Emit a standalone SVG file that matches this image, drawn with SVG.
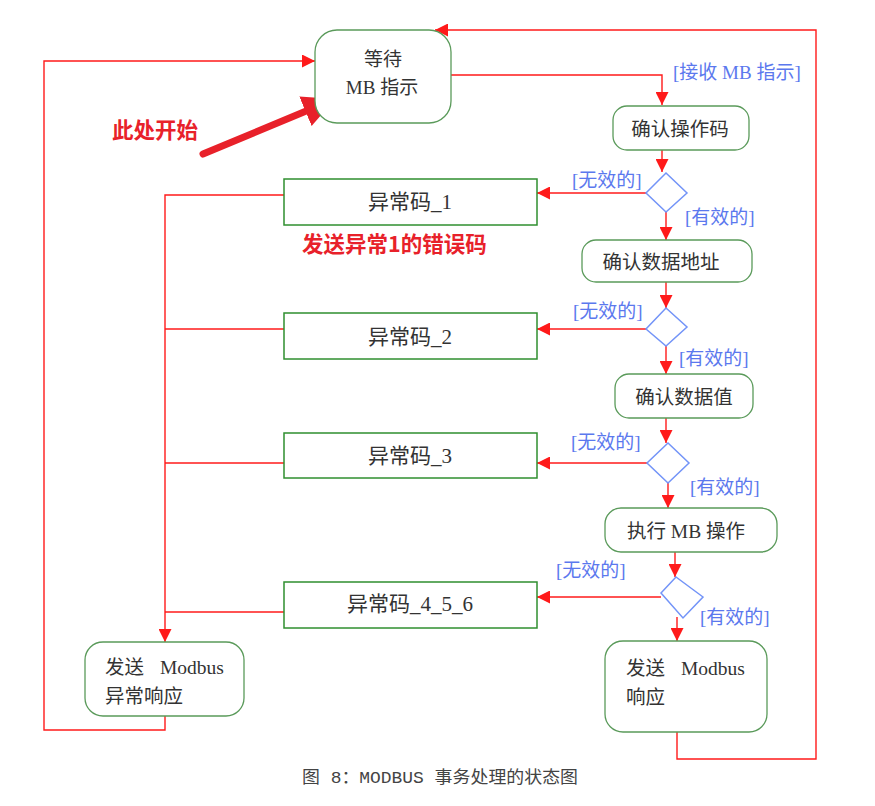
<svg xmlns="http://www.w3.org/2000/svg" width="875" height="806" viewBox="0 0 875 806">
<style>
.state{fill:#fff;stroke:#5a9a5a;stroke-width:1.3}
.box{fill:#fff;stroke:#2f8f2f;stroke-width:1.5}
.dia{fill:#fff;stroke:#7394f8;stroke-width:1.5}
.t{font-family:"Liberation Serif","Noto Sans CJK SC",serif;fill:#333;text-anchor:middle}
.tl{font-family:"Liberation Serif","Noto Sans CJK SC",serif;fill:#333}
.lab{font-family:"Liberation Serif","Noto Sans CJK SC",serif;fill:#5b78ee;font-size:19px}
.red{font-family:"Noto Sans CJK SC",sans-serif;font-weight:bold;fill:#e8212a;font-size:21.5px}
.ln{fill:none;stroke:#ff1a1a;stroke-width:1.4}
</style>
<defs>
<marker id="ah" markerUnits="userSpaceOnUse" markerWidth="13" markerHeight="13" refX="13" refY="6.5" orient="auto"><path d="M0,0 L13,6.5 L0,13 z" fill="#ff1a1a"/></marker>
<marker id="big" markerUnits="userSpaceOnUse" markerWidth="40" markerHeight="40" refX="32" refY="16" orient="auto"><path d="M0,0 L32,16 L0,32 z" fill="#e8212a"/></marker>
</defs>
<rect width="875" height="806" fill="#fff"/>
<g id="connectors">
<path class="ln" d="M451,75 H662 V105" marker-end="url(#ah)"/>
<path class="ln" d="M662,150 V172" marker-end="url(#ah)"/>
<path class="ln" d="M646,193 H537" marker-end="url(#ah)"/>
<path class="ln" d="M666,212 V240" marker-end="url(#ah)"/>
<path class="ln" d="M666,282 V308" marker-end="url(#ah)"/>
<path class="ln" d="M646,329 H537" marker-end="url(#ah)"/>
<path class="ln" d="M666,346 V374" marker-end="url(#ah)"/>
<path class="ln" d="M666,418 V443" marker-end="url(#ah)"/>
<path class="ln" d="M647,463 H537" marker-end="url(#ah)"/>
<path class="ln" d="M668,483 V508" marker-end="url(#ah)"/>
<path class="ln" d="M675,552 V577" marker-end="url(#ah)"/>
<path class="ln" d="M661,597 H537" marker-end="url(#ah)"/>
<path class="ln" d="M677,617 V641" marker-end="url(#ah)"/>
<path class="ln" d="M677,732 V759 H816 V30 H435" marker-end="url(#ah)"/>
<path class="ln" d="M284,195 H165 V642" marker-end="url(#ah)"/>
<path class="ln" d="M284,329 H165"/>
<path class="ln" d="M284,463 H165"/>
<path class="ln" d="M284,612 H165"/>
<path class="ln" d="M165,716 V730 H44 V61 H315" marker-end="url(#ah)"/>
<line x1="203" y1="154" x2="335" y2="99" stroke="#e8212a" stroke-width="7" stroke-linecap="round" marker-end="url(#big)"/>
</g>
<g id="n-wait"><rect class="state" x="315" y="30" width="136" height="93" rx="22"/><text class="t" x="383" y="66" font-size="19">等待</text><text class="t" x="382" y="94" font-size="19">MB 指示</text></g>
<g id="lab-recv"><text class="lab" x="673" y="79">[接收 MB 指示]</text></g>
<g id="start"><text class="red" x="112" y="138">此处开始</text></g>
<g id="n-op"><rect class="state" x="613" y="106" width="136" height="44" rx="14"/><text class="t" x="680" y="136" font-size="19.5">确认操作码</text></g>
<g id="d1"><polygon class="dia" points="666,173 687,193 666,212 646,193"/></g>
<g id="e1"><rect class="box" x="284" y="179" width="253" height="46"/><text class="t" x="410" y="209" font-size="21">异常码_1</text></g>
<g id="note"><text class="red" x="302" y="252" font-size="22">发送异常1的错误码</text></g>
<text class="lab" x="572" y="187">[无效的]</text>
<text class="lab" x="685" y="224">[有效的]</text>
<g id="n-addr"><rect class="state" x="582" y="240" width="170" height="42" rx="14"/><text class="t" x="661" y="269" font-size="19.5">确认数据地址</text></g>
<g id="d2"><polygon class="dia" points="666,308 687,327 666,346 646,329"/></g>
<g id="e2"><rect class="box" x="284" y="313" width="253" height="46"/><text class="t" x="410" y="344" font-size="21">异常码_2</text></g>
<text class="lab" x="573" y="318">[无效的]</text>
<text class="lab" x="679" y="365">[有效的]</text>
<g id="n-val"><rect class="state" x="615" y="374" width="138" height="44" rx="14"/><text class="t" x="684" y="404" font-size="19.5">确认数据值</text></g>
<g id="d3"><polygon class="dia" points="668,443 689,463 668,483 647,463"/></g>
<g id="e3"><rect class="box" x="284" y="433" width="253" height="45"/><text class="t" x="410" y="463" font-size="21">异常码_3</text></g>
<text class="lab" x="571" y="449">[无效的]</text>
<text class="lab" x="690" y="494">[有效的]</text>
<g id="n-exec"><rect class="state" x="605" y="508" width="172" height="44" rx="16"/><text class="t" x="686" y="538" font-size="19.5">执行 MB 操作</text></g>
<g id="d4"><polygon class="dia" points="676,577 703,597 683,618 661,593"/></g>
<g id="e4"><rect class="box" x="284" y="582" width="253" height="46"/><text class="t" x="410" y="611" font-size="21">异常码_4_5_6</text></g>
<text class="lab" x="556" y="577">[无效的]</text>
<text class="lab" x="700" y="624">[有效的]</text>
<g id="n-exc"><rect class="state" x="85" y="642" width="159" height="74" rx="18"/><text class="tl" x="105" y="674" font-size="19.5">发送 <tspan dx="11">Modbus</tspan></text><text class="tl" x="105" y="703" font-size="19.5">异常响应</text></g>
<g id="n-resp"><rect class="state" x="605" y="641" width="162" height="91" rx="18"/><text class="tl" x="626" y="675" font-size="19.5">发送 <tspan dx="11">Modbus</tspan></text><text class="tl" x="626" y="704" font-size="19.5">响应</text></g>
<text x="302" y="783" font-family="'Liberation Mono','Noto Sans CJK SC',monospace" font-size="17" fill="#444" textLength="276" lengthAdjust="spacingAndGlyphs">图 8：MODBUS 事务处理的状态图</text>
</svg>
